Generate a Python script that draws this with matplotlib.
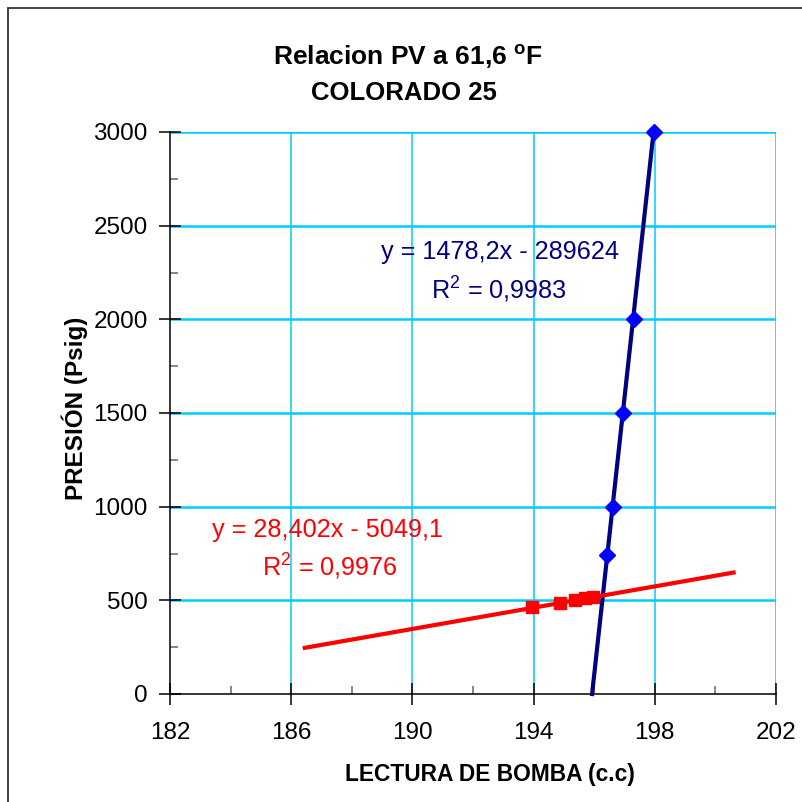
import matplotlib
matplotlib.use("Agg")
import matplotlib.pyplot as plt
import numpy as np
from matplotlib.ticker import FixedLocator
from matplotlib.patches import Rectangle

plt.rcParams['font.family'] = ['Liberation Sans', 'DejaVu Sans']
plt.rcParams['mathtext.fontset'] = 'custom'
plt.rcParams['mathtext.rm'] = 'Liberation Sans'
plt.rcParams['mathtext.bf'] = 'Liberation Sans:bold'

# data
blue_x = [196.43, 196.62, 196.94, 197.30, 197.96]
blue_y = [740, 1000, 1500, 2000, 3000]
red_x = [193.95, 194.87, 195.37, 195.70, 195.95]
red_y = [465, 487, 500, 510, 517]

blue_slope, blue_icpt = 1478.2, -289624
red_slope, red_icpt = 28.402, -5049.1
red_fit_range = [186.45, 200.6]

x_major = [182, 186, 190, 194, 198, 202]
x_minor = [184, 188, 192, 196, 200]
y_major = [0, 500, 1000, 1500, 2000, 2500, 3000]
y_minor = [250, 750, 1250, 1750, 2250, 2750]

title_lines = ["Relacion PV a 61,6 $^{\\mathregular{o}}$F", "COLORADO 25"]
xlabel = "LECTURA DE BOMBA (c.c)"
ylabel = "PRESIÓN (Psig)"
blue_eq = "y = 1478,2x - 289624"
blue_r2 = "R$^{\\mathregular{2}}$ = 0,9983"
red_eq = "y = 28,402x - 5049,1"
red_r2 = "R$^{\\mathregular{2}}$ = 0,9976"

W, H = 803, 802
fig = plt.figure(figsize=(W/100, H/100), dpi=100)
ax = fig.add_axes([170/W, 1-694/H, (776-170)/W, (694-132)/H])

grid_c = '#00CCFF'
ax.set_xlim(182, 202)
ax.set_ylim(0, 3000)
ax.xaxis.set_major_locator(FixedLocator(x_major))
ax.xaxis.set_minor_locator(FixedLocator(x_minor))
ax.yaxis.set_major_locator(FixedLocator(y_major))
ax.yaxis.set_minor_locator(FixedLocator(y_minor))
for v in x_major[1:]:
    ax.axvline(v, color=grid_c, lw=1.1, zorder=1)
for v in y_major[1:]:
    ax.axhline(v, color=grid_c, lw=1.8, zorder=1)

for s in ['top', 'right']:
    ax.spines[s].set_visible(False)
for s in ['left', 'bottom']:
    ax.spines[s].set_color('black')
    ax.spines[s].set_linewidth(1.1)
    ax.spines[s].set_zorder(2)

ax.tick_params(which='major', direction='inout', length=16, width=1.1, color='black', labelsize=17.5)
ax.tick_params(axis='y', which='major', pad=8)
ax.tick_params(axis='x', which='major', pad=12)
ax.tick_params(which='minor', direction='in', length=6, width=1.1, color='#666666')

# trendlines
y0x = (0 - blue_icpt) / blue_slope
bx = np.array([y0x, max(blue_x)])
ax.plot(bx, blue_slope*bx + blue_icpt, color='#000080', lw=3.0, zorder=3, clip_on=False)
rx = np.array(red_fit_range)
ax.plot(rx, red_slope*rx + red_icpt, color='#FF0000', lw=3.0, zorder=3)

ax.plot(blue_x, blue_y, linestyle='none', marker='D', ms=8, color='#0000FF', zorder=4, clip_on=False)
ax.plot(red_x, red_y, linestyle='none', marker='s', ms=9, color='#FF0000', zorder=4)

def fx(px): return px / W
def fy(py): return 1 - py / H

fig.text(fx(500), fy(252), blue_eq, color='#000080', fontsize=18.2, ha='center', va='center')
fig.text(fx(499), fy(290), blue_r2, color='#000080', fontsize=18.2, ha='center', va='center')
fig.text(fx(328), fy(530), red_eq, color='#FF0000', fontsize=18.2, ha='center', va='center')
fig.text(fx(330), fy(567), red_r2, color='#FF0000', fontsize=18.2, ha='center', va='center')

fig.text(fx(408), fy(57), title_lines[0], fontsize=19, fontweight='bold', ha='center', va='center')
fig.text(fx(404), fy(93), title_lines[1], fontsize=18.5, fontweight='bold', ha='center', va='center')

fig.text(fx(490), fy(775), xlabel, fontsize=16.4, fontweight='bold', ha='center', va='center')
fig.text(fx(75), fy(408), ylabel, fontsize=17.5, fontweight='bold', ha='center', va='center', rotation=90)

fig.patches.append(Rectangle((fx(8), 0-0.01), 1.02, fy(8)+0.01, transform=fig.transFigure,
                             fill=False, edgecolor='#333333', lw=1.3))

fig.savefig("out.png", dpi=100)
